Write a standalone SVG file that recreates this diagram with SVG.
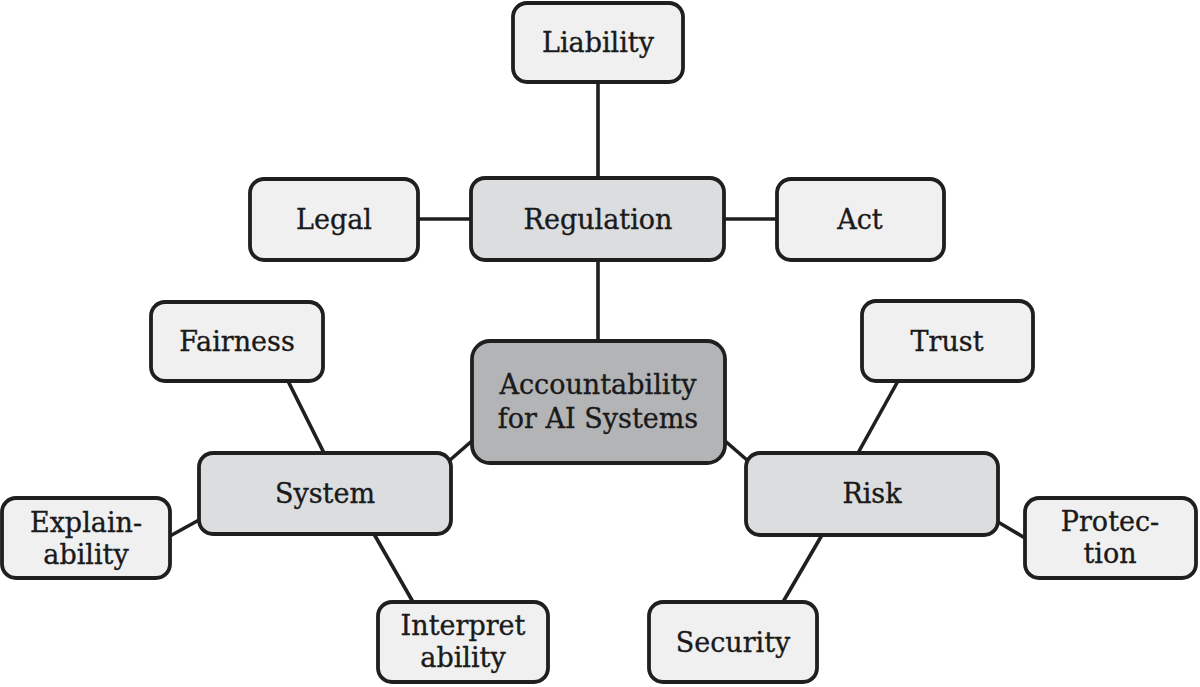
<svg xmlns="http://www.w3.org/2000/svg" width="1200" height="687" viewBox="0 0 1200 687">
<style>
  .box { stroke: #1f1f1f; stroke-width: 3.8; }
  .leaf { fill: #f0f0f0; }
  .mid { fill: #dcdddf; }
  .core { fill: #b3b4b6; }
  .edge { stroke: #1f1f1f; stroke-width: 3.6; fill: none; }
  text { font-family: "DejaVu Serif", "Liberation Serif", serif; font-size: 27px; fill: #1a1a1a; stroke: #1a1a1a; stroke-width: 0.35; text-anchor: middle; }
</style>
<rect width="1200" height="687" fill="#ffffff"/>
<g id="connectors">
  <line class="edge" x1="598" y1="82" x2="598" y2="178"/>
  <line class="edge" x1="418" y1="219" x2="471" y2="219"/>
  <line class="edge" x1="724" y1="219" x2="777" y2="219"/>
  <line class="edge" x1="598" y1="260" x2="598" y2="341"/>
  <line class="edge" x1="473" y1="440" x2="450" y2="460"/>
  <line class="edge" x1="724" y1="440" x2="747" y2="460"/>
  <line class="edge" x1="288" y1="381" x2="324" y2="453"/>
  <line class="edge" x1="170" y1="536" x2="199" y2="520"/>
  <line class="edge" x1="374" y1="534" x2="413" y2="602"/>
  <line class="edge" x1="898" y1="381" x2="858" y2="453"/>
  <line class="edge" x1="822" y1="535" x2="783" y2="602"/>
  <line class="edge" x1="998" y1="522" x2="1025" y2="538"/>
</g>
<g id="liability"><rect class="box leaf" x="513" y="3" width="170" height="79" rx="14"/><text x="598" y="52">Liability</text></g>
<g id="regulation"><rect class="box mid" x="471" y="178" width="253" height="82" rx="14"/><text x="598" y="229">Regulation</text></g>
<g id="legal"><rect class="box leaf" x="250" y="179" width="168" height="81" rx="14"/><text x="334" y="229">Legal</text></g>
<g id="act"><rect class="box leaf" x="777" y="179" width="167" height="81" rx="14"/><text x="860" y="229">Act</text></g>
<g id="accountability"><rect class="box core" x="472" y="341" width="253" height="122" rx="18"/><text x="598" y="394">Accountability</text><text x="598" y="428">for AI Systems</text></g>
<g id="fairness"><rect class="box leaf" x="151" y="302" width="172" height="79" rx="14"/><text x="237" y="351">Fairness</text></g>
<g id="trust"><rect class="box leaf" x="862" y="301" width="171" height="80" rx="14"/><text x="947" y="351">Trust</text></g>
<g id="system"><rect class="box mid" x="199" y="453" width="252" height="81" rx="14"/><text x="325" y="503">System</text></g>
<g id="risk"><rect class="box mid" x="746" y="453" width="252" height="82" rx="14"/><text x="872" y="503">Risk</text></g>
<g id="explainability"><rect class="box leaf" x="2" y="498" width="168" height="80" rx="14"/><text x="86" y="532">Explain-</text><text x="86" y="564">ability</text></g>
<g id="protection"><rect class="box leaf" x="1025" y="498" width="171" height="80" rx="14"/><text x="1110" y="531">Protec-</text><text x="1110" y="563">tion</text></g>
<g id="interpretability"><rect class="box leaf" x="378" y="602" width="170" height="80" rx="14"/><text x="463" y="635">Interpret</text><text x="463" y="667">ability</text></g>
<g id="security"><rect class="box leaf" x="649" y="602" width="168" height="80" rx="14"/><text x="733" y="652">Security</text></g>
</svg>
